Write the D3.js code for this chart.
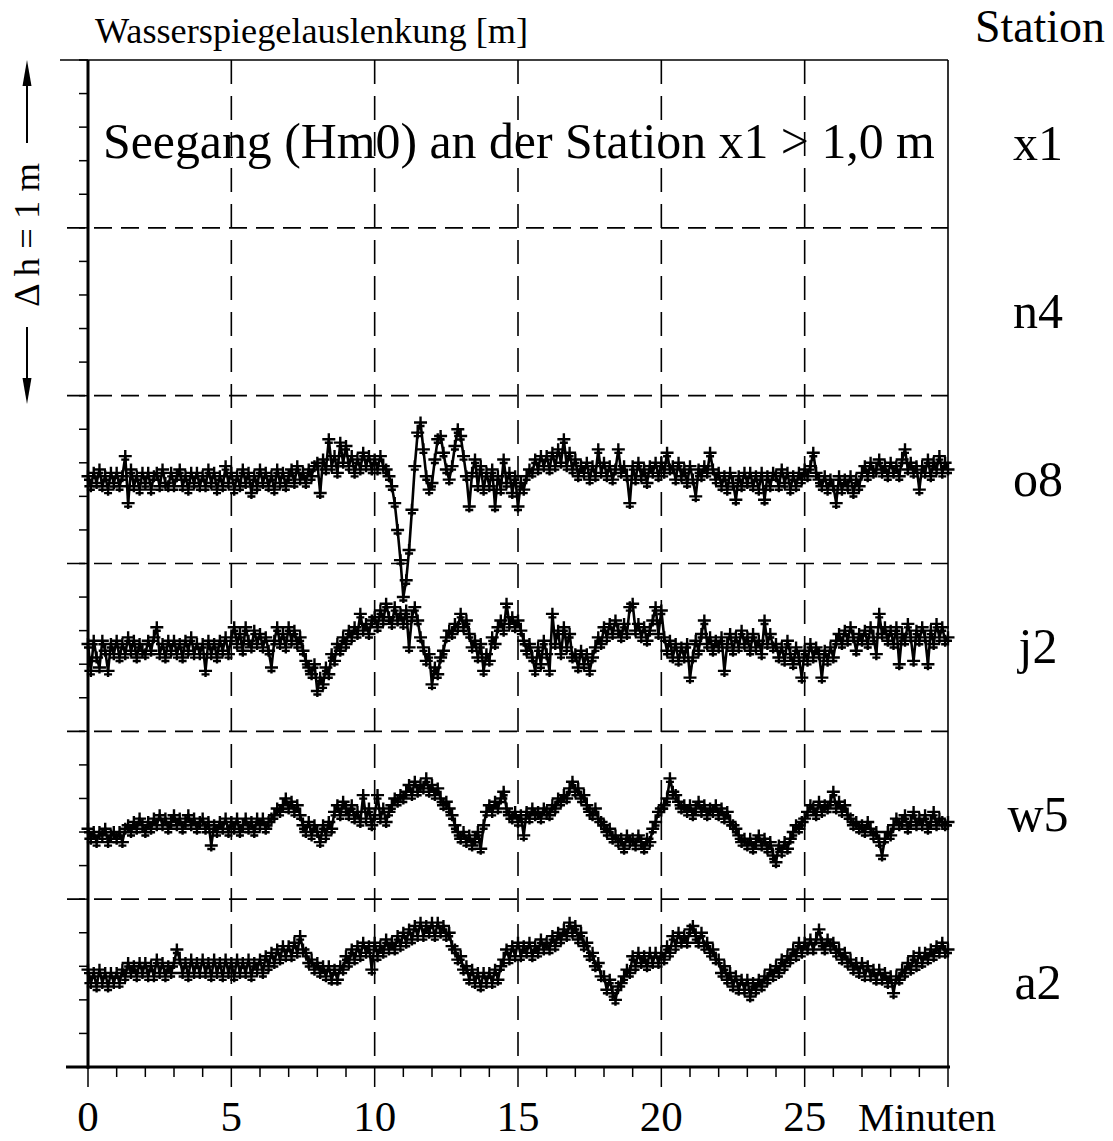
<!DOCTYPE html>
<html><head><meta charset="utf-8">
<script src="https://cdn.jsdelivr.net/npm/d3@7"></script>
<style>body{margin:0;background:#fff}svg{display:block}</style>
</head><body>
<svg id="c" width="1113" height="1141"></svg>
<script>
// ---------- data ----------
const stations = ["x1", "n4", "o8", "j2", "w5", "a2"];
const xTickValues = [0, 5, 10, 15, 20, 25];
const timeStepMin = 0.1;           // sampling step of the traces (minutes)
// water level deviation in cm, relative to each station's base line, one value every 0.1 min (t = 0 .. 30)
const o8 = [
 1,-2,2,-1,3,-2,1,-3,2,-1,
 2,-2,1,7,-7,3,-2,1,-3,2,
 -1,2,-3,1,2,-2,3,-1,-2,2,
 -2,1,3,-2,1,-3,2,-1,2,-2,
 1,-2,3,-1,2,-3,1,-2,4,-1,
 2,-3,1,-2,3,-1,2,-4,1,-2,
 3,-1,2,-2,1,-3,3,-1,2,-2,
 1,3,-1,4,0,2,-1,3,1,4,
 5,-4,6,3,12,4,7,2,11,5,
 10,4,7,2,6,3,8,4,7,3,
 6,3,7,4,3,1,-2,-7,-15,-24,
 -35,-30,-21,-9,4,14,17,9,1,-3,
 -1,6,12,13,8,3,0,4,10,15,
 13,7,1,-8,2,6,-2,4,-3,2,
 -2,3,-8,1,-3,6,-1,2,-4,1,
 -8,-1,-3,1,3,2,6,3,7,4,
 7,3,8,4,9,5,12,4,8,3,
 6,1,4,2,5,0,4,1,9,2,
 5,1,4,0,3,9,2,4,1,-7,
 4,0,5,1,3,-1,4,2,5,1,
 5,2,8,3,4,0,5,1,3,-1,
 4,0,-5,3,1,4,2,8,3,0,
 2,-2,1,-3,2,-1,-6,1,-2,2,
 -1,2,-2,1,-3,2,-6,1,-2,2,
 1,-2,3,-1,2,-3,1,-2,2,0,
 3,1,4,8,2,0,-2,1,-3,0,
 -2,-7,1,-3,0,-2,1,-4,0,-2,
 2,4,1,5,2,3,6,2,4,1,
 5,2,4,1,6,9,3,5,2,4,
 -3,4,2,6,1,5,3,7,2,5,
 3];
const j2 = [
 1,-7,2,-3,-6,2,-1,-7,1,-2,
 2,-3,1,-2,3,-1,2,-3,1,-1,
 -2,2,-1,3,6,-2,1,-3,2,-1,
 2,-2,1,-3,2,-1,3,-2,1,-2,
 1,-7,2,-2,1,-3,2,-1,3,-2,
 3,6,1,4,-1,6,2,0,5,1,
 4,0,3,-1,-6,2,6,1,4,0,
 6,2,5,1,3,-1,-4,-6,-8,-5,
 -13,-9,-11,-6,-8,-2,-4,1,-1,3,
 1,5,3,6,4,10,5,7,4,8,
 9,6,11,8,13,9,7,12,8,10,
 7,11,0,9,12,8,3,0,-4,-2,
 -11,-6,-8,-3,-1,3,5,4,7,6,
 10,6,8,4,0,2,-3,1,-7,-2,
 -4,3,1,6,8,5,13,7,9,6,
 8,5,2,-1,1,-3,-7,0,-5,2,
 -2,-7,10,1,5,-2,6,0,4,-3,
 -2,-6,-1,-5,-2,-7,-3,0,3,1,
 6,3,7,4,8,5,3,7,4,12,
 13,5,7,3,6,2,5,8,12,4,
 11,3,-1,2,-3,1,-4,0,-3,1,
 -9,-3,2,-1,4,8,1,3,-1,2,
 0,3,-7,1,4,-1,3,0,5,1,
 3,-1,4,0,2,-2,8,1,4,0,
 1,-3,0,-4,2,-2,-5,0,-3,-9,
 -1,-4,1,-3,0,-2,-9,-1,-4,0,
 -3,2,4,1,5,2,6,3,-1,4,
 2,5,1,6,3,-2,10,4,6,2,
 5,1,6,-5,4,2,7,3,-4,5,
 2,6,3,-5,5,1,7,3,6,2,
 3];
const w5 = [
 -4,-7,-5,-8,-5,-6,-4,-8,-6,-5,
 -7,-5,-8,-4,-3,-5,-2,-4,-1,-3,
 -5,-2,-4,-1,-3,0,-3,-1,-4,-2,
 0,-3,-1,-4,-2,0,-3,-1,-4,-2,
 -1,-4,-2,-9,-3,-5,-2,-4,-1,-5,
 -2,-4,-1,-5,-3,-1,-4,-2,-5,-1,
 -3,-1,-4,-2,-1,0,2,1,3,5,
 2,4,1,3,0,-3,-5,-2,-6,-3,
 -5,-8,-3,-6,-2,-4,1,3,0,4,
 2,0,3,-1,1,-2,6,-1,2,-3,
 0,6,-1,2,-2,1,3,5,4,6,
 5,7,9,6,10,7,9,8,11,7,
 9,6,8,5,3,4,2,0,-3,-5,
 -7,-5,-8,-6,-9,-7,-5,-10,-3,1,
 3,1,4,2,5,7,2,0,-1,1,
 -2,0,-6,1,-1,2,0,1,-1,2,
 1,0,3,2,5,4,6,5,8,10,
 7,8,5,6,3,1,0,2,-1,-2,
 -3,-5,-4,-7,-6,-8,-7,-10,-6,-8,
 -7,-9,-6,-8,-10,-7,-8,-4,-2,1,
 2,3,5,11,7,6,4,2,3,1,
 3,0,2,4,1,3,0,2,1,3,
 0,2,-1,1,-2,-3,-4,-6,-8,-7,
 -9,-7,-10,-8,-6,-9,-7,-10,-8,-12,
 -14,-9,-11,-8,-10,-7,-5,-3,-4,-2,
 -1,1,3,2,0,4,1,3,2,4,
 7,2,4,1,3,0,-1,-3,-2,-4,
 -3,-5,-2,-4,-6,-5,-8,-12,-7,-5,
 -6,-3,-1,-3,-2,0,-4,-2,1,-3,
 -1,-3,0,-4,-2,1,-3,-1,-2,-3,
 -2];
const a2 = [
 4,0,3,-1,4,0,3,-1,3,0,
 3,0,4,2,6,3,5,2,6,3,
 6,2,5,2,7,3,6,2,5,3,
 6,10,7,3,6,2,7,3,6,3,
 7,3,6,2,7,3,6,2,7,3,
 6,2,7,3,6,3,7,2,6,4,
 7,3,8,5,9,6,10,7,11,8,
 11,8,12,9,14,10,9,6,7,4,
 6,3,5,2,5,1,4,1,5,4,
 8,6,10,7,11,8,12,9,11,4,
 12,8,11,9,13,10,12,10,14,11,
 15,12,16,13,17,14,18,14,17,15,
 18,14,18,15,17,14,15,11,10,7,
 8,4,5,1,4,0,3,-1,3,0,
 3,0,4,1,5,7,10,7,11,8,
 12,8,11,9,12,8,11,9,13,10,
 12,10,14,11,15,13,16,14,18,15,
 17,13,15,11,12,8,9,5,6,2,
 2,-2,1,-3,-5,-1,0,2,4,3,
 8,5,9,6,8,5,9,6,9,6,
 9,7,11,9,14,11,15,12,14,12,
 16,17,14,12,15,11,12,9,10,7,
 7,3,5,1,3,-1,2,-2,1,-2,
 1,-4,0,-2,1,-1,2,1,4,2,
 5,3,7,5,8,7,10,8,12,9,
 12,10,13,10,13,16,12,10,13,11,
 12,9,10,7,9,6,7,4,6,3,
 6,2,5,2,4,1,4,1,3,0,
 2,-3,2,1,4,3,6,4,8,5,
 9,6,9,7,10,8,11,9,12,9,
 10];
const traces = [
  {station: "o8", values: o8},
  {station: "j2", values: j2},
  {station: "w5", values: w5},
  {station: "a2", values: a2}
];

// ---------- layout ----------
const svg = d3.select("#c");
const L = 88, R = 948, T = 60, B = 1067;
const bandM = 0.5;                       // each station band = 0.5 m
const totalM = bandM * stations.length;  // 3 m
const x = d3.scaleLinear().domain([0, 30]).range([L, R]);
const y = d3.scaleLinear().domain([0, totalM]).range([B, T]);
const stationCenter = s => totalM - bandM / 2 - bandM * stations.indexOf(s);
const serif = "'Liberation Serif','Times New Roman',Times,serif";

// grid: horizontal dashed lines at band boundaries
const bounds = d3.range(1, stations.length).map(i => i * bandM);
svg.append("g").selectAll("line").data(bounds).join("line")
  .attr("x1", 67).attr("x2", R).attr("y1", d => y(d)).attr("y2", d => y(d))
  .attr("stroke", "#000").attr("stroke-width", 1.6).attr("stroke-dasharray", "18,9");

// vertical dashed lines every 5 minutes
svg.append("g").selectAll("line").data(xTickValues.filter(d => d > 0)).join("line")
  .attr("x1", d => x(d)).attr("x2", d => x(d)).attr("y1", T).attr("y2", B)
  .attr("stroke", "#000").attr("stroke-width", 1.6).attr("stroke-dasharray", "24,12");

// left minor ticks every 0.1 m
svg.append("g").selectAll("line").data(d3.range(0, totalM + 0.001, 0.1)).join("line")
  .attr("x1", L - 9).attr("x2", L).attr("y1", d => y(d)).attr("y2", d => y(d))
  .attr("stroke", "#000").attr("stroke-width", 1.5);

// bottom ticks every minute
svg.append("g").selectAll("line").data(d3.range(0, 31, 1)).join("line")
  .attr("x1", d => x(d)).attr("x2", d => x(d)).attr("y1", B)
  .attr("y2", d => B + (d % 5 === 0 ? 20 : 10))
  .attr("stroke", "#000").attr("stroke-width", 1.5);

// frame
svg.append("line").attr("x1", 60).attr("x2", R).attr("y1", T).attr("y2", T)
  .attr("stroke", "#000").attr("stroke-width", 1.6);
svg.append("line").attr("x1", R).attr("x2", R).attr("y1", T).attr("y2", B)
  .attr("stroke", "#000").attr("stroke-width", 1.6);
svg.append("line").attr("x1", L).attr("x2", L).attr("y1", T).attr("y2", B + 2)
  .attr("stroke", "#000").attr("stroke-width", 3);
svg.append("line").attr("x1", 66).attr("x2", R + 2).attr("y1", B).attr("y2", B)
  .attr("stroke", "#000").attr("stroke-width", 3);

// traces: connecting line plus a dash-like "+" marker at every sample
const line = d3.line()
  .x(d => d.x)
  .y(d => d.y);
traces.forEach(tr => {
  const c = stationCenter(tr.station);
  const pts = tr.values.map((v, i) => ({x: x(i * timeStepMin), y: y(c + v / 100)}));
  const g = svg.append("g");
  g.append("path").datum(pts).attr("d", line)
    .attr("fill", "none").attr("stroke", "#000").attr("stroke-width", 2.6);
  g.append("path")
    .attr("d", pts.map(p => `M${p.x - 6.5},${p.y}h13M${p.x - 4},${p.y + 3.5}h8M${p.x},${p.y - 6}v12`).join(""))
    .attr("fill", "none").attr("stroke", "#000").attr("stroke-width", 2.4);
});

// text helpers
function fit(sel, w) {
  const len = sel.node().getComputedTextLength();
  const fs = parseFloat(sel.attr("font-size"));
  sel.attr("font-size", fs * w / len);
  return sel;
}

// x tick labels
svg.append("g").selectAll("text").data(xTickValues).join("text")
  .attr("x", d => x(d)).attr("y", 1131).attr("text-anchor", "middle")
  .attr("font-family", serif).attr("font-size", 43).text(d => d);
fit(svg.append("text").attr("x", 858).attr("y", 1131)
  .attr("font-family", serif).attr("font-size", 40).text("Minuten"), 138);

// titles
fit(svg.append("text").attr("x", 95).attr("y", 43)
  .attr("font-family", serif).attr("font-size", 28).text("Wasserspiegelauslenkung [m]"), 433);
fit(svg.append("text").attr("x", 975).attr("y", 42)
  .attr("font-family", serif).attr("font-size", 44).text("Station"), 130);
fit(svg.append("text").attr("x", 103).attr("y", 158)
  .attr("font-family", serif).attr("font-size", 46).text("Seegang (Hm0) an der Station x1 > 1,0 m"), 832);

// station labels
svg.append("g").selectAll("text").data(stations).join("text")
  .attr("x", 1038).attr("y", d => y(stationCenter(d)) + 16)
  .attr("text-anchor", "middle").attr("font-family", serif).attr("font-size", 50)
  .text(d => d);

// vertical scale indicator  <- delta h = 1 m ->
const ax = 27;
fit(svg.append("text").attr("transform", `translate(${ax + 12},235) rotate(-90)`)
  .attr("text-anchor", "middle").attr("font-family", serif).attr("font-size", 36)
  .text("\u0394 h = 1 m"), 144);
svg.append("line").attr("x1", ax).attr("x2", ax).attr("y1", 82).attr("y2", 143)
  .attr("stroke", "#000").attr("stroke-width", 2);
svg.append("path").attr("d", `M${ax},60 L${ax - 4.5},86 L${ax + 4.5},86 Z`).attr("fill", "#000");
svg.append("line").attr("x1", ax).attr("x2", ax).attr("y1", 327).attr("y2", 382)
  .attr("stroke", "#000").attr("stroke-width", 2);
svg.append("path").attr("d", `M${ax},404 L${ax - 4.5},378 L${ax + 4.5},378 Z`).attr("fill", "#000");
</script>
</body></html>
